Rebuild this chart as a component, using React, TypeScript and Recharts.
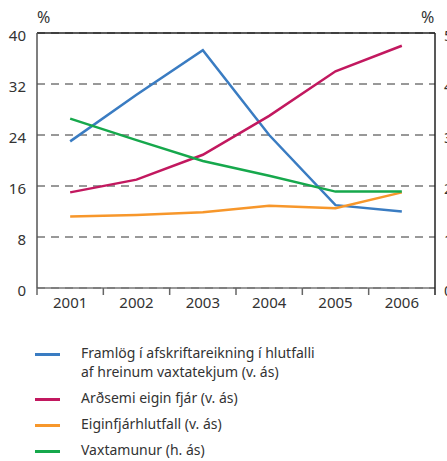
import React from 'react';
import {
  LineChart,
  Line,
  XAxis,
  YAxis,
  CartesianGrid,
  ReferenceLine
} from 'recharts';

const years = ['2001', '2002', '2003', '2004', '2005', '2006'];
const framlog = [23, 30.3, 37.3, 24, 13, 12];
const ardsemi = [15, 17, 20.9, 27, 34, 38];
const eiginfjar = [11.2, 11.45, 11.9, 12.9, 12.5, 15];
const vaxtamunur = [3.32, 2.9, 2.49, 2.2, 1.89, 1.89];

const leftTicks = [0, 8, 16, 24, 32, 40];
const rightTicks = [0, 1, 2, 3, 4, 5];

const series = [
  { key: 'framlog', color: '#3a7cc2', axis: 'left', label: ['Framlög í afskriftareikning í hlutfalli', 'af hreinum vaxtatekjum (v. ás)'] },
  { key: 'ardsemi', color: '#c2185f', axis: 'left', label: ['Arðsemi eigin fjár (v. ás)'] },
  { key: 'eiginfjar', color: '#f7972b', axis: 'left', label: ['Eiginfjárhlutfall (v. ás)'] },
  { key: 'vaxtamunur', color: '#16a84c', axis: 'right', label: ['Vaxtamunur (h. ás)'] }
];

const data = years.map((year, i) => ({
  year,
  framlog: framlog[i],
  ardsemi: ardsemi[i],
  eiginfjar: eiginfjar[i],
  vaxtamunur: vaxtamunur[i]
}));

const W = 447;
const H = 320;
const M = { top: 33, right: 0, left: 0, bottom: 0 };
const LEFT_W = 37;
const RIGHT_W = 12;
const XH = 32;
const PLOT_BOTTOM = H - XH;
const HALF_BAND = (W - LEFT_W - RIGHT_W) / years.length / 2;
const FONT = '"Noto Sans", "Open Sans", sans-serif';

const XTick = (props: any) => {
  const { x, index, payload } = props;
  const last = index === years.length - 1;
  return (
    <g>
      <line x1={x - HALF_BAND} x2={x - HALF_BAND} y1={PLOT_BOTTOM} y2={PLOT_BOTTOM + 7} stroke="#666" strokeWidth={1.5} />
      {last && (
        <line x1={x + HALF_BAND} x2={x + HALF_BAND} y1={PLOT_BOTTOM} y2={PLOT_BOTTOM + 7} stroke="#222" strokeWidth={1.5} />
      )}
      <text x={x} y={PLOT_BOTTOM + 20} textAnchor="middle" fontSize={15} fill="#333" fontFamily={FONT}>
        {payload.value}
      </text>
    </g>
  );
};

export default function App() {
  return (
    <div style={{ position: 'absolute', left: 0, top: 0, width: W, height: 461, background: '#fff', fontFamily: FONT }}>
      <div style={{ position: 'absolute', left: 37, top: 6, fontSize: 16, color: '#333' }}>%</div>
      <div style={{ position: 'absolute', left: 421, top: 6, fontSize: 16, color: '#333' }}>%</div>
      <LineChart width={W} height={H} data={data} margin={M}>
        <CartesianGrid horizontal vertical={false} stroke="#333" strokeDasharray="8 6" yAxisId="left" />
        <XAxis
          dataKey="year"
          scale="band"
          height={XH}
          tickLine={false}
          axisLine={{ stroke: '#777', strokeWidth: 1.5 }}
          tick={<XTick />}
          interval={0}
        />
        <YAxis
          yAxisId="left"
          orientation="left"
          width={LEFT_W}
          domain={[0, 40]}
          ticks={leftTicks}
          tickLine={false}
          axisLine={{ stroke: '#555', strokeWidth: 1.5 }}
          tick={{ fontSize: 15, fill: '#333', fontFamily: FONT, dy: 3 }}
          tickMargin={5}
          interval={0}
        />
        <YAxis
          yAxisId="right"
          orientation="right"
          width={RIGHT_W}
          domain={[0, 5]}
          ticks={rightTicks}
          tickLine={false}
          axisLine={{ stroke: '#222', strokeWidth: 1.5 }}
          tick={{ fontSize: 15, fill: '#333', fontFamily: FONT, dy: 3 }}
          tickMargin={3}
          interval={0}
        />
        <ReferenceLine yAxisId="left" y={40} stroke="#222" strokeWidth={1.5} />
        {series.map((s) => (
          <Line
            key={s.key}
            yAxisId={s.axis}
            dataKey={s.key}
            stroke={s.color}
            strokeWidth={2.5}
            dot={false}
            type="linear"
            isAnimationActive={false}
          />
        ))}
      </LineChart>
      <div style={{ position: 'absolute', left: 0, top: 343, width: W }}>
        {series.map((s) => (
          <div key={s.key} style={{ display: 'flex', alignItems: 'flex-start', marginBottom: 7 }}>
            <div style={{ width: 25, height: 2.5, background: s.color, marginLeft: 35, marginTop: 10, marginRight: 21 }} />
            <div style={{ fontSize: 14, lineHeight: '19px', color: '#333' }}>
              {s.label.map((l) => (
                <div key={l}>{l}</div>
              ))}
            </div>
          </div>
        ))}
      </div>
    </div>
  );
}
